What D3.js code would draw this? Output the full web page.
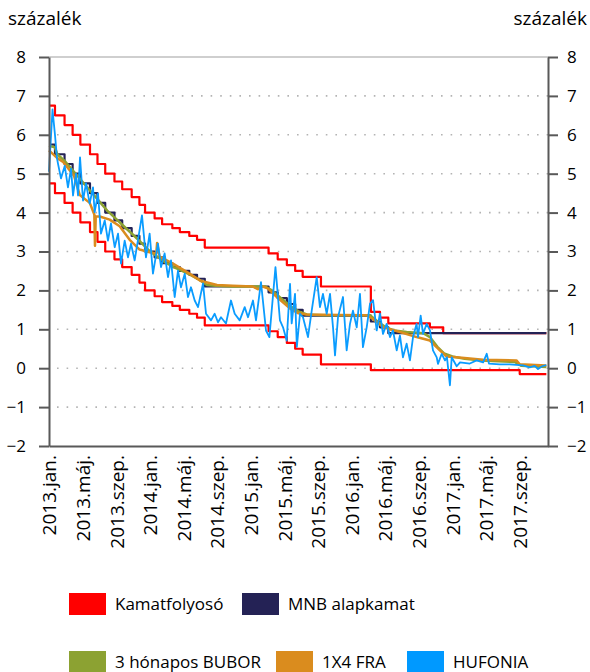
<!DOCTYPE html>
<html>
<head>
<meta charset="utf-8">
<script src="https://cdn.jsdelivr.net/npm/d3@7"></script>
<style>
    body { margin: 0; background: #fff; }
    svg { display: block; font-family: "Open Sans", sans-serif; }
</style>
</head>
<body>
<div id="chart"></div>
<script>
// x values are months since 2013 jan. 1
var yTicks = [-2, -1, 0, 1, 2, 3, 4, 5, 6, 7, 8];
var xTickMonths = [0, 4.0, 8.1, 12.1, 16.2, 20.2, 24.2, 28.3, 32.3, 36.4, 40.4, 44.4, 48.5, 52.5, 56.6];
var xTickLabels = ["2013.jan.", "2013.máj.", "2013.szep.", "2014.jan.", "2014.máj.", "2014.szep.",
    "2015.jan.", "2015.máj.", "2015.szep.", "2016.jan.", "2016.máj.", "2016.szep.",
    "2017.jan.", "2017.máj.", "2017.szep."];

var korridorFelso = [[0, 6.75], [0.72, 6.5], [1.87, 6.25], [2.84, 6.0], [3.77, 5.75], [4.93, 5.5], [5.83, 5.25],
    [6.76, 5.0], [7.87, 4.8], [8.8, 4.6], [9.94, 4.4], [10.87, 4.2], [11.55, 4.0], [12.7, 3.85], [13.6, 3.7],
    [14.83, 3.6], [15.73, 3.5], [16.87, 3.4], [17.8, 3.3], [18.73, 3.1], [26.4, 2.95], [27.5, 2.8], [28.6, 2.65],
    [29.6, 2.5], [30.5, 2.35], [32.7, 2.1], [38.7, 1.45], [39.8, 1.3], [40.8, 1.15], [45.8, 1.05], [47.4, 0.9],
    [59.8, 0.9]];

var korridorAlso = [[0, 4.75], [0.72, 4.5], [1.87, 4.25], [2.84, 4.0], [3.77, 3.75], [4.93, 3.5], [5.83, 3.25],
    [6.76, 3.0], [7.87, 2.8], [8.8, 2.6], [9.94, 2.4], [10.87, 2.2], [11.55, 2.0], [12.7, 1.85], [13.6, 1.7],
    [14.83, 1.6], [15.73, 1.5], [16.87, 1.4], [17.8, 1.3], [18.73, 1.1], [26.4, 0.95], [27.5, 0.8], [28.6, 0.65],
    [29.6, 0.5], [30.5, 0.35], [32.7, 0.1], [38.7, -0.05], [56.6, -0.15], [59.8, -0.15]];

var alapkamat = [[0, 5.75], [0.72, 5.5], [1.87, 5.25], [2.84, 5.0], [3.77, 4.75], [4.93, 4.5], [5.83, 4.25],
    [6.76, 4.0], [7.87, 3.8], [8.8, 3.6], [9.94, 3.4], [10.87, 3.2], [11.55, 3.0], [12.7, 2.85], [13.6, 2.7],
    [14.83, 2.6], [15.73, 2.5], [16.87, 2.4], [17.8, 2.3], [18.73, 2.1], [26.4, 1.95], [27.5, 1.8], [28.6, 1.65],
    [29.6, 1.5], [30.5, 1.35], [38.7, 1.2], [39.8, 1.05], [40.8, 0.9], [59.8, 0.9]];

var bubor = [[0, 5.72], [0.7, 5.68], [1.0, 5.5], [2, 5.3], [3, 5.05], [4, 4.8], [5, 4.55], [6, 4.3], [7, 4.05],
    [8, 3.85], [9, 3.65], [10, 3.45], [11, 3.25], [12, 3.03], [13, 2.87], [14, 2.72], [15, 2.6], [16, 2.5],
    [17, 2.4], [18, 2.28], [19, 2.14], [20, 2.12], [22, 2.1], [24, 2.1], [26, 2.1], [26.8, 2.0], [27.9, 1.8],
    [29, 1.6], [30, 1.46], [31, 1.38], [33, 1.36], [36, 1.36], [38.6, 1.36], [39.5, 1.2], [40.5, 1.05],
    [41.5, 0.97], [43, 0.93], [45, 0.9], [45.8, 0.8], [46.7, 0.55], [47.5, 0.38], [48.5, 0.3], [50, 0.24],
    [52, 0.2], [54, 0.18], [56, 0.16], [56.8, 0.06], [59.8, 0.03]];

var fra = [[0, 5.6], [1, 5.4], [1.7, 5.3], [3.0, 4.95], [3.7, 4.45], [4.9, 4.25], [5.45, 3.95], [5.53, 3.15],
    [5.62, 3.9], [6.1, 3.9], [7.3, 3.82], [8.5, 3.65], [9.7, 3.3], [10.9, 3.05], [12.1, 2.98], [12.9, 2.95],
    [13.0, 3.22], [13.3, 2.87], [14.9, 2.69], [16.6, 2.47], [18.2, 2.25], [20.2, 2.14], [22.1, 2.12], [24.5, 2.1],
    [25.1, 2.03], [25.7, 2.1], [26.3, 2.05], [27.4, 1.83], [29.0, 1.53], [30.0, 1.41], [31, 1.38], [35, 1.37],
    [38.2, 1.36], [38.9, 1.27], [40.2, 1.05], [42.2, 0.93], [44.2, 0.8], [45.8, 0.71], [47.0, 0.46], [47.8, 0.3],
    [49.0, 0.28], [52.2, 0.22], [56.2, 0.2], [56.6, 0.1], [59.8, 0.07]];

var hufonia = [[0, 5.05], [0.42, 6.65], [0.72, 6.0], [0.96, 5.4], [1.08, 5.26], [1.44, 4.88], [1.89, 5.2],
    [2.28, 4.65], [2.65, 5.13], [2.89, 4.44], [3.25, 5.0], [3.49, 4.44], [3.73, 5.42], [4.09, 4.31], [4.45, 4.75],
    [4.89, 4.23], [5.29, 4.65], [5.49, 4.01], [5.89, 4.49], [6.25, 3.46], [6.7, 3.8], [7.09, 3.28], [7.45, 3.72],
    [7.9, 3.11], [8.3, 3.46], [8.66, 2.69], [9.1, 3.28], [9.5, 2.85], [9.86, 3.2], [10.3, 2.77], [10.7, 3.3],
    [11.18, 3.93], [11.66, 2.85], [12.1, 3.46], [12.5, 2.43], [13.1, 3.2], [13.47, 2.6], [13.9, 2.95],
    [14.31, 2.34], [14.67, 2.77], [15.11, 1.83], [15.51, 2.51], [15.87, 2.08], [16.32, 2.43], [16.71, 1.83],
    [17.07, 2.08], [17.52, 1.74], [17.92, 1.57], [18.52, 2.18], [18.88, 1.4], [19.48, 1.23], [19.92, 1.4],
    [20.32, 1.18], [20.68, 1.31], [21.28, 1.15], [21.88, 1.74], [22.33, 1.4], [22.93, 1.23], [23.53, 1.57],
    [23.93, 1.31], [24.53, 1.74], [24.89, 1.23], [25.49, 2.21], [26.09, 0.97], [26.5, 0.8], [27.23, 2.6],
    [27.77, 1.23], [28.14, 1.05], [28.58, 0.71], [28.98, 2.17], [29.18, 1.15], [29.58, 1.91], [29.8, 0.55],
    [30.18, 1.4], [30.54, 1.31], [31.14, 0.8], [31.59, 1.48], [32.19, 2.34], [32.58, 1.57], [32.94, 1.91],
    [33.39, 1.4], [33.79, 1.91], [34.15, 1.05], [34.39, 0.33], [34.75, 1.31], [35.35, 1.83], [35.79, 0.46],
    [36.19, 1.14], [36.55, 1.48], [37.0, 1.05], [37.39, 1.91], [37.75, 0.54], [38.2, 1.05], [38.6, 1.66],
    [38.96, 1.75], [39.4, 0.97], [39.8, 1.4], [40.16, 0.88], [40.6, 1.14], [41.0, 0.8], [41.36, 0.97],
    [41.81, 0.46], [42.2, 0.84], [42.56, 0.28], [43.0, 0.63], [43.4, 0.2], [43.77, 0.8], [44.2, 1.14],
    [44.37, 0.8], [44.69, 1.35], [44.97, 0.88], [45.41, 1.14], [45.81, 0.97], [46.17, 0.46], [46.62, 0.28],
    [46.77, 0.11], [47.22, 0.37], [47.61, 0.2], [47.85, 0.28], [48.21, -0.44], [48.42, 0.28], [49.02, 0.05],
    [49.42, 0.15], [50.6, 0.12], [51.42, 0.2], [52.2, 0.15], [52.63, 0.37], [52.9, 0.12], [54.2, 0.1],
    [55.4, 0.1], [57.0, 0.07], [57.8, 0.02], [58.4, 0.06], [58.8, -0.02], [59.3, 0.05], [59.8, 0.08]];

var legendNames = ["Kamatfolyosó", "MNB alapkamat", "3 hónapos BUBOR", "1X4 FRA", "HUFONIA"];
var legendColors = ["#ff0000", "#242255", "#8ca232", "#da8c1e", "#0099ff"];

(function () {
    var width = 590,
        height = 672;

    var svg = d3.select("#chart").append("svg")
        .attr("width", width)
        .attr("height", height);

    var x = d3.scaleLinear().domain([0, 60]).range([49, 548]);
    var y = d3.scaleLinear().domain([-2, 8]).range([446, 57]);

    var axisColor = "#595959";

    // dotted grid
    svg.selectAll(".grid")
        .data(yTicks.filter(function (d) { return d > -2 && d < 8; }))
        .enter().append("line")
        .attr("class", "grid")
        .attr("x1", x(0) + 8).attr("x2", x(60))
        .attr("y1", function (d) { return y(d); })
        .attr("y2", function (d) { return y(d); })
        .attr("stroke", "#b3b3b3")
        .attr("stroke-width", 1.6)
        .attr("stroke-dasharray", "1.6,8");

    // top border
    svg.append("line")
        .attr("x1", x(0)).attr("x2", x(60))
        .attr("y1", y(8)).attr("y2", y(8))
        .attr("stroke", "#bfbfbf")
        .attr("stroke-width", 1.5);

    var line = d3.line()
        .x(function (d) { return x(d[0]); })
        .y(function (d) { return y(d[1]); });

    var stepLine = d3.line()
        .curve(d3.curveStepAfter)
        .x(function (d) { return x(d[0]); })
        .y(function (d) { return y(d[1]); });

    function draw(data, gen, color, w) {
        svg.append("path")
            .datum(data)
            .attr("d", gen)
            .attr("fill", "none")
            .attr("stroke", color)
            .attr("stroke-width", w)
            .attr("stroke-linejoin", "round");
    }

    draw(korridorFelso, stepLine, legendColors[0], 2.2);
    draw(korridorAlso, stepLine, legendColors[0], 2.2);
    draw(alapkamat, stepLine, legendColors[1], 2.2);
    draw(bubor, line, legendColors[2], 2.5);
    draw(fra, line, legendColors[3], 2.5);
    draw(hufonia, line, "#0a9cff", 1.8);

    // axes
    var left = svg.append("g")
        .attr("transform", "translate(" + x(0) + ",0)")
        .call(d3.axisLeft(y).tickValues(yTicks).tickSize(10).tickSizeOuter(0).tickPadding(13));
    var right = svg.append("g")
        .attr("transform", "translate(" + x(60) + ",0)")
        .call(d3.axisRight(y).tickValues(yTicks).tickSize(10).tickSizeOuter(0).tickPadding(9));
    var bottom = svg.append("g")
        .attr("transform", "translate(0," + y(-2) + ")")
        .call(d3.axisBottom(x).tickValues(xTickMonths).tickSize(0).tickSizeOuter(0)
            .tickFormat(function (d, i) { return xTickLabels[i]; }));

    [left, right, bottom].forEach(function (g) {
        g.select(".domain").attr("stroke", axisColor).attr("stroke-width", 2);
        g.selectAll(".tick line").attr("stroke", axisColor).attr("stroke-width", 2);
        g.selectAll("text").attr("fill", "#000").attr("font-family", "'Open Sans', sans-serif");
    });
    left.selectAll("text").attr("font-size", 17);
    right.selectAll("text").attr("font-size", 17);

    bottom.selectAll(".tick text")
        .attr("font-size", 19)
        .attr("text-anchor", "end")
        .attr("transform", "translate(0,9) rotate(-90)")
        .attr("x", 0)
        .attr("y", 0)
        .attr("dy", "0.36em");

    // unit labels
    svg.append("text").attr("x", 8).attr("y", 25)
        .attr("font-size", 19).text("százalék");
    svg.append("text").attr("x", 587).attr("y", 25)
        .attr("text-anchor", "end")
        .attr("font-size", 19).text("százalék");

    // legend
    var legendX = [69, 242, 69, 276, 407];
    var legendY = [593, 593, 651, 651, 651];
    var textX = [115, 288, 115, 322, 453];

    var items = svg.selectAll(".legend")
        .data(legendNames)
        .enter().append("g")
        .attr("class", "legend");

    items.append("rect")
        .attr("x", function (d, i) { return legendX[i]; })
        .attr("y", function (d, i) { return legendY[i]; })
        .attr("width", 37)
        .attr("height", 22)
        .attr("fill", function (d, i) { return legendColors[i]; });

    items.append("text")
        .attr("x", function (d, i) { return textX[i]; })
        .attr("y", function (d, i) { return legendY[i] + 11; })
        .attr("dy", "0.36em")
        .attr("font-size", 17)
        .text(function (d) { return d; });
})();
</script>
</body>
</html>
